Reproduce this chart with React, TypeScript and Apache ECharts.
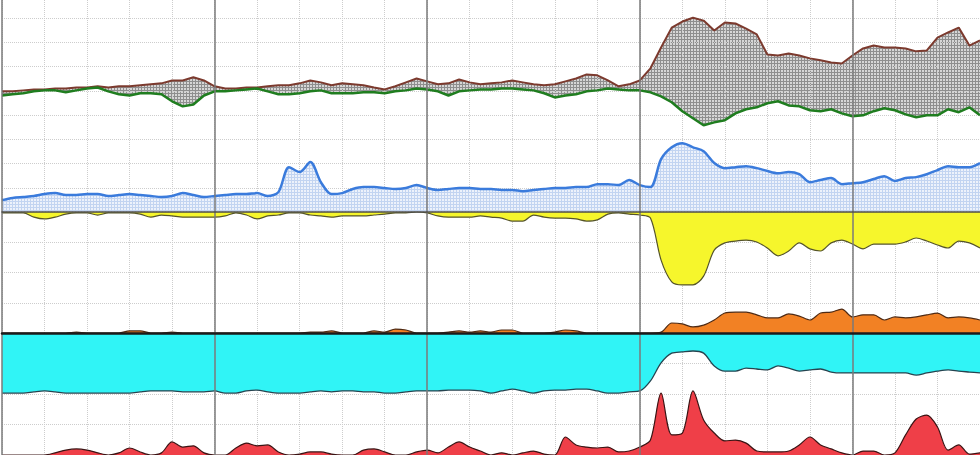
import React, { useEffect, useRef } from 'react';
import * as echarts from 'echarts';

// x runs in minor-grid units (5 minor = 1 major), sampled every STEP
const STEP = 0.25;
const X_MAX = 23;

// top panel (units = horizontal grid spacing above baseline)
const upperLine = [
  4.98, 4.98, 5.02, 5.06, 5.06, 5.10, 5.10, 5.14, 5.14, 5.19,
  5.14, 5.19, 5.19, 5.23, 5.27, 5.31, 5.43, 5.43, 5.56, 5.43,
  5.19, 5.10, 5.10, 5.14, 5.14, 5.19, 5.23, 5.23, 5.31, 5.43,
  5.35, 5.23, 5.31, 5.27, 5.23, 5.14, 5.06, 5.19, 5.35, 5.51,
  5.39, 5.27, 5.31, 5.47, 5.35, 5.27, 5.31, 5.35, 5.43, 5.35,
  5.27, 5.23, 5.27, 5.39, 5.51, 5.68, 5.64, 5.43, 5.19, 5.27,
  5.43, 5.93, 6.79, 7.61, 7.86, 8.02, 7.90, 7.49, 7.82, 7.78,
  7.57, 7.33, 6.50, 6.46, 6.54, 6.46, 6.34, 6.26, 6.17, 6.13,
  6.46, 6.75, 6.87, 6.79, 6.79, 6.75, 6.63, 6.67, 7.20, 7.41,
  7.61, 6.87, 7.08,
];
const lowerLine = [
  4.81, 4.86, 4.90, 4.98, 5.02, 5.02, 4.94, 5.02, 5.10, 5.14,
  4.98, 4.86, 4.81, 4.90, 4.90, 4.86, 4.57, 4.36, 4.44, 4.81,
  4.98, 4.98, 5.02, 5.06, 5.10, 4.98, 4.86, 4.86, 4.90, 4.98,
  5.02, 4.90, 4.90, 4.90, 4.94, 4.94, 4.90, 4.98, 5.02, 5.10,
  5.06, 4.98, 4.81, 4.98, 5.02, 5.06, 5.06, 5.10, 5.10, 5.06,
  5.02, 4.90, 4.73, 4.81, 4.86, 4.98, 5.02, 5.10, 5.06, 5.02,
  5.02, 4.94, 4.77, 4.53, 4.16, 3.87, 3.58, 3.70, 3.79, 4.07,
  4.24, 4.32, 4.49, 4.57, 4.40, 4.36, 4.20, 4.16, 4.24, 4.07,
  3.95, 3.99, 4.16, 4.28, 4.20, 4.03, 3.91, 3.99, 3.99, 4.24,
  4.12, 4.32, 3.99,
];
const blueLine = [
  0.49, 0.58, 0.62, 0.66, 0.74, 0.78, 0.70, 0.70, 0.74, 0.74,
  0.66, 0.70, 0.74, 0.70, 0.66, 0.62, 0.66, 0.78, 0.70, 0.62,
  0.66, 0.70, 0.74, 0.74, 0.78, 0.66, 0.82, 1.85, 1.65, 2.06,
  1.23, 0.74, 0.78, 0.95, 1.03, 1.03, 0.99, 0.95, 0.99, 1.11,
  0.99, 0.91, 0.95, 0.99, 0.99, 0.95, 0.95, 0.91, 0.91, 0.86,
  0.91, 0.95, 0.99, 0.99, 1.03, 1.03, 1.15, 1.15, 1.11, 1.32,
  1.11, 1.03, 2.18, 2.67, 2.84, 2.67, 2.51, 2.02, 1.81, 1.85,
  1.89, 1.81, 1.69, 1.60, 1.65, 1.56, 1.23, 1.32, 1.40, 1.15,
  1.19, 1.23, 1.36, 1.48, 1.28, 1.40, 1.44, 1.56, 1.73, 1.89,
  1.85, 1.85, 2.02,
];

// middle panel: yellow hangs down from the top, orange rises from the bottom
const yellowDepth = [
  0.03, 0.03, 0.03, 0.17, 0.23, 0.17, 0.07, 0.03, 0.03, 0.10,
  0.03, 0.03, 0.03, 0.07, 0.17, 0.10, 0.13, 0.17, 0.17, 0.17,
  0.17, 0.13, 0.03, 0.10, 0.23, 0.13, 0.10, 0.03, 0.03, 0.10,
  0.13, 0.17, 0.13, 0.13, 0.13, 0.10, 0.07, 0.03, 0.03, 0,
  0.03, 0.13, 0.17, 0.17, 0.17, 0.13, 0.17, 0.20, 0.30, 0.30,
  0.10, 0.17, 0.20, 0.20, 0.23, 0.30, 0.26, 0.07, 0.03, 0.07,
  0.10, 0.20, 1.59, 2.31, 2.41, 2.41, 2.12, 1.26, 1.02, 0.96,
  0.93, 0.99, 1.19, 1.45, 1.29, 1.02, 1.22, 1.29, 1.02, 0.93,
  1.06, 1.22, 1.06, 1.06, 1.06, 0.99, 0.86, 0.96, 1.09, 1.19,
  0.96, 1.02, 1.19,
];
const orangeHeight = [
  0, 0, 0, 0, 0, 0, 0, 0.03, 0, 0,
  0, 0, 0.07, 0.07, 0, 0, 0.03, 0, 0, 0,
  0, 0, 0, 0, 0, 0, 0, 0, 0, 0.03,
  0.03, 0.07, 0, 0, 0, 0.07, 0.03, 0.13, 0.10, 0,
  0, 0, 0.03, 0.07, 0.03, 0.07, 0.03, 0.10, 0.10, 0,
  0, 0, 0.03, 0.10, 0.07, 0, 0, 0, 0, 0,
  0, 0, 0.03, 0.33, 0.30, 0.20, 0.26, 0.43, 0.66, 0.69,
  0.69, 0.60, 0.50, 0.50, 0.63, 0.56, 0.43, 0.66, 0.69, 0.79,
  0.53, 0.60, 0.60, 0.43, 0.53, 0.50, 0.53, 0.60, 0.66, 0.50,
  0.53, 0.50, 0.43,
];

// bottom panel: cyan hangs down from the top, red rises from the bottom
const cyanDepth = [
  1.97, 1.97, 1.97, 1.93, 1.90, 1.93, 1.97, 1.97, 1.97, 1.97,
  1.97, 1.97, 1.97, 1.93, 1.90, 1.90, 1.90, 1.93, 1.93, 1.93,
  1.90, 1.97, 1.97, 1.90, 1.87, 1.93, 1.97, 1.97, 1.97, 1.93,
  1.90, 1.93, 1.90, 1.90, 1.93, 1.93, 1.97, 1.97, 1.93, 1.90,
  1.90, 1.90, 1.87, 1.87, 1.87, 1.90, 1.97, 1.90, 1.84, 1.90,
  1.97, 1.90, 1.87, 1.87, 1.84, 1.84, 1.90, 1.97, 1.97, 1.93,
  1.90, 1.57, 0.98, 0.66, 0.62, 0.59, 0.66, 1.08, 1.25, 1.25,
  1.15, 1.18, 1.21, 1.08, 1.15, 1.25, 1.21, 1.18, 1.28, 1.31,
  1.31, 1.31, 1.31, 1.31, 1.31, 1.31, 1.38, 1.31, 1.25, 1.21,
  1.25, 1.28, 1.31,
];
const redHeight = [
  0, 0, 0, 0, 0, 0.07, 0.16, 0.20, 0.16, 0.07,
  0, 0.07, 0.23, 0.10, 0, 0.07, 0.43, 0.26, 0.30, 0.07,
  0, 0, 0.23, 0.39, 0.30, 0.33, 0.10, 0, 0.03, 0.10,
  0.10, 0.03, 0, 0, 0.16, 0.20, 0.10, 0, 0, 0.10,
  0.16, 0.07, 0.26, 0.43, 0.26, 0.13, 0, 0.07, 0, 0.07,
  0.13, 0.03, 0, 0.59, 0.33, 0.26, 0.23, 0.26, 0.10, 0.13,
  0.26, 0.49, 2.03, 0.66, 0.72, 2.10, 1.15, 0.72, 0.46, 0.49,
  0.39, 0.13, 0.10, 0.10, 0.13, 0.33, 0.59, 0.33, 0.20, 0.07,
  0, 0.13, 0.13, 0, 0.07, 0.66, 1.18, 1.31, 0.92, 0.16,
  0.33, 0.03, 0.07,
];

const pts = (vals: number[]) => vals.map((v, i) => [i * STEP, v]);

function hatch(bg: string, line: string) {
  const size = 3;
  const c = document.createElement('canvas');
  c.width = size;
  c.height = size;
  const ctx = c.getContext('2d')!;
  ctx.fillStyle = bg;
  ctx.fillRect(0, 0, size, size);
  ctx.fillStyle = line;
  ctx.fillRect(0, 0, size, 1);
  ctx.fillRect(0, 0, 1, size);
  return { image: c, repeat: 'repeat', imageWidth: size, imageHeight: size } as any;
}

export default function App() {
  const ref = useRef<HTMLDivElement>(null);

  useEffect(() => {
    if (!ref.current) return;
    const chart = echarts.init(ref.current, null, { renderer: 'svg' });
    const grayHatch = hatch('#d6d6d6', '#8e8e8e');
    const blueHatch = hatch('#edf2fb', '#c2d4f1');

    const dotted = { show: true, lineStyle: { color: '#cdcdcd', type: 'dotted', width: 1 } };
    const noLabel = { axisLabel: { show: false }, axisTick: { show: false } };
    const xBase = (gridIndex: number, extra: any = {}) => ({
      type: 'value', gridIndex, min: 0, max: X_MAX, ...noLabel,
      splitLine: { show: false }, axisLine: { show: false }, ...extra,
    });
    const yBase = (gridIndex: number, max: number, extra: any = {}) => ({
      type: 'value', gridIndex, min: 0, max, interval: 1, ...noLabel,
      axisLine: { show: false }, splitLine: { show: false }, ...extra,
    });
    const noSym = { symbol: 'none', silent: true };

    chart.setOption({
      animation: false,
      backgroundColor: '#ffffff',
      grid: [
        { left: 2, right: 0, top: 0, height: 212 },
        { left: 2, right: 0, top: 212, height: 121 },
        { left: 2, right: 0, top: 333, height: 122 },
        { left: 2, right: 0, top: 0, height: 455 },
      ],
      xAxis: [
        xBase(0, { z: 6, axisLine: { show: true, onZero: false, lineStyle: { color: '#4c4c4c', width: 1.5 } } }),
        xBase(1, { z: 6, axisLine: { show: true, onZero: false, lineStyle: { color: '#1a1a1a', width: 2.5 } } }),
        xBase(2),
        xBase(3, { z: 1.5, interval: 1, splitLine: { ...dotted, showMaxLine: false } }),
        xBase(3, { interval: 5, z: 5, splitLine: { show: true, showMaxLine: false, lineStyle: { color: '#7a7a7a', width: 1.5 } } }),
      ],
      yAxis: [
        yBase(0, 8.75, { z: 1.5, splitLine: { ...dotted, showMaxLine: false, showMinLine: false } }),
        yBase(1, 4, { splitLine: { ...dotted, showMaxLine: false, showMinLine: false } }),
        yBase(1, 4, { inverse: true }),
        yBase(2, 4, { splitLine: { ...dotted, showMaxLine: false, showMinLine: false } }),
        yBase(2, 4, { inverse: true }),
        yBase(3, 4),
      ],
      series: [
        // band between the two top lines: hatch under the upper line, white under the lower
        {
          type: 'line', ...noSym, xAxisIndex: 0, yAxisIndex: 0, data: pts(upperLine), z: 1,
          lineStyle: { opacity: 0 }, areaStyle: { color: grayHatch, opacity: 1 },
        },
        {
          type: 'line', ...noSym, xAxisIndex: 0, yAxisIndex: 0, data: pts(lowerLine), z: 1,
          lineStyle: { opacity: 0 }, areaStyle: { color: '#ffffff', opacity: 1 },
        },
        {
          type: 'line', ...noSym, xAxisIndex: 0, yAxisIndex: 0, data: pts(blueLine), smooth: 0.3, z: 2,
          lineStyle: { color: '#3a7bdc', width: 2.5 }, areaStyle: { color: blueHatch, opacity: 1 },
        },
        {
          type: 'line', ...noSym, xAxisIndex: 0, yAxisIndex: 0, data: pts(upperLine),
          lineStyle: { color: '#7c3a2e', width: 2 }, z: 3,
        },
        {
          type: 'line', ...noSym, xAxisIndex: 0, yAxisIndex: 0, data: pts(lowerLine),
          lineStyle: { color: '#1f7d1f', width: 2.5 }, z: 3,
        },
        {
          type: 'line', ...noSym, xAxisIndex: 1, yAxisIndex: 2, data: pts(yellowDepth), smooth: 0.3,
          lineStyle: { color: '#55542a', width: 1.2 }, areaStyle: { color: '#f6f62c', opacity: 1 },
        },
        {
          type: 'line', ...noSym, xAxisIndex: 1, yAxisIndex: 1, data: pts(orangeHeight), smooth: 0.3,
          lineStyle: { color: '#4e2a14', width: 1.2 }, areaStyle: { color: '#f28124', opacity: 1 },
        },
        {
          type: 'line', ...noSym, xAxisIndex: 2, yAxisIndex: 4, data: pts(cyanDepth), smooth: 0.3,
          lineStyle: { color: '#26434f', width: 1.3 }, areaStyle: { color: '#30f4f6', opacity: 1 },
        },
        {
          type: 'line', ...noSym, xAxisIndex: 2, yAxisIndex: 3, data: pts(redHeight), smooth: 0.3,
          lineStyle: { color: '#3a1414', width: 1.2 }, areaStyle: { color: '#ef3f48', opacity: 1 },
        },
      ],
    });

    return () => chart.dispose();
  }, []);

  return (
    <div
      ref={ref}
      style={{ position: 'fixed', left: 0, top: 0, width: 980, height: 455, background: '#fff' }}
    />
  );
}
